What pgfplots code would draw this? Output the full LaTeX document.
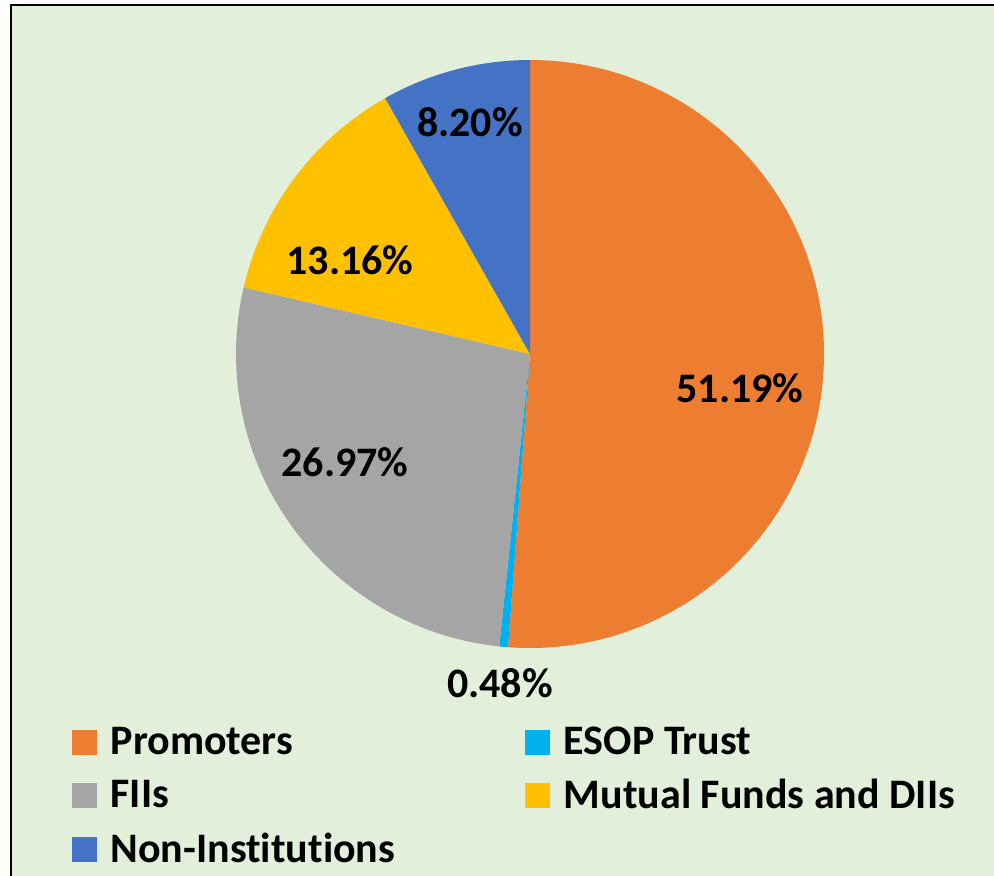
\documentclass[border=0pt]{standalone}
\usepackage{fontspec}
\setmainfont{Carlito}[Ligatures=NoCommon]
\usepackage{pgfplots}
\pgfplotsset{compat=1.18}
\definecolor{bgcol}{HTML}{E2EFDA}
\definecolor{promo}{HTML}{ED7D31}
\definecolor{esop}{HTML}{00B0F0}
\definecolor{fii}{HTML}{A5A5A5}
\definecolor{mfdii}{HTML}{FFC000}
\definecolor{noninst}{HTML}{4472C4}
% shareholding, per cent
\def\vPromo{51.19}
\def\vEsop{0.48}
\def\vFii{26.97}
\def\vMf{13.16}
\def\vNon{8.20}
\pgfmathsetmacro\aA{90}
\pgfmathsetmacro\aB{\aA-3.6*\vPromo}
\pgfmathsetmacro\aC{\aB-3.6*\vEsop}
\pgfmathsetmacro\aD{\aC-3.6*\vFii}
\pgfmathsetmacro\aE{\aD-3.6*\vMf}
\pgfmathsetmacro\aF{\aE-3.6*\vNon}
\newcommand{\slice}[3]{\fill[#1] (axis cs:0,0) -- (axis cs:{cos(#2)},{sin(#2)}) arc[start angle=#2,end angle=#3,radius=147pt] -- cycle;}
\newcommand{\lblfont}{\fontsize{21}{25}\selectfont\bfseries}
\begin{document}
\begin{tikzpicture}
\useasboundingbox (0,0) rectangle (497pt,-437.5pt);
\clip (0,0) rectangle (497pt,-437.5pt);
\fill[white] (0,0) rectangle (497pt,-437.5pt);
\fill[bgcol] (5.5pt,-2.5pt) rectangle (600pt,-600pt);
\draw[black,line width=1.3pt] (5.5pt,-600pt) -- (5.5pt,-2.5pt) -- (600pt,-2.5pt);
\begin{axis}[at={(265pt,-177pt)},anchor=origin,x=147pt,y=147pt,
  xmin=-1,xmax=1,ymin=-1,ymax=1,hide axis,clip=false,
  legend columns=2,
  legend cell align=left,
  legend image code/.code={\fill[#1] (0pt,-6pt) rectangle (12pt,6pt);\path (17pt,0pt);},
  legend style={at={(axis cs:-1.58,-1.24)},anchor=north west,draw=none,fill=none,
    font=\lblfont,row sep=6.7pt,
    /tikz/every even column/.append style={column sep=63pt}}]
\slice{promo}{\aA}{\aB}
\slice{esop}{\aB}{\aC}
\slice{fii}{\aC}{\aD}
\slice{mfdii}{\aD}{\aE}
\slice{noninst}{\aE}{\aF}
\addlegendimage{promo}\addlegendentry{Promoters}
\addlegendimage{esop}\addlegendentry{ESOP Trust}
\addlegendimage{fii}\addlegendentry{FIIs}
\addlegendimage{mfdii}\addlegendentry{Mutual Funds and DIIs}
\addlegendimage{noninst}\addlegendentry{Non-Institutions}
\begin{scope}[every node/.style={font=\lblfont}]
\node at (axis cs:0.714,-0.116) {51.19\%};
\node at (axis cs:-0.102,-1.119) {0.48\%};
\node at (axis cs:-0.629,-0.367) {26.97\%};
\node at (axis cs:-0.612,0.320) {13.16\%};
\node at (axis cs:-0.204,0.789) {8.20\%};
\end{scope}
\end{axis}
\end{tikzpicture}
\end{document}
